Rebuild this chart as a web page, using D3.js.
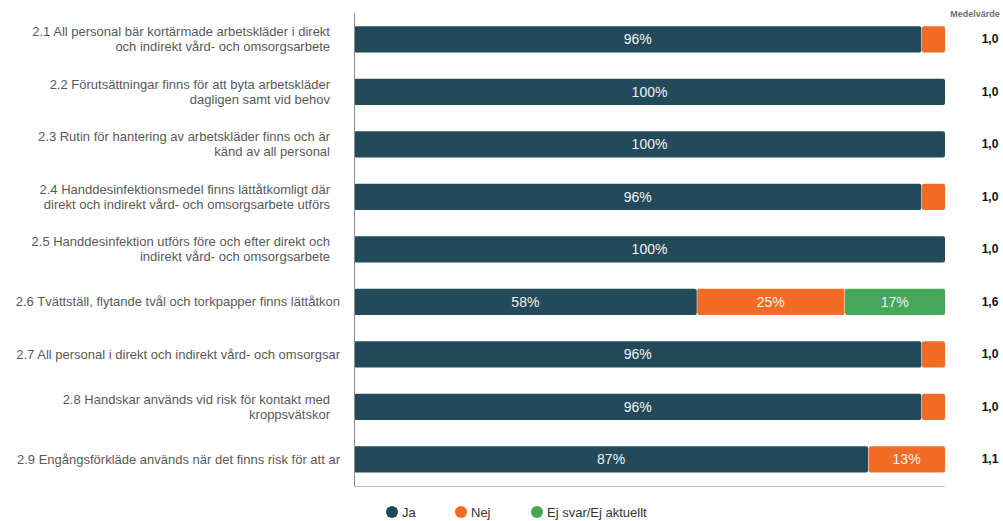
<!DOCTYPE html>
<html><head><meta charset="utf-8">
<script src="https://cdn.jsdelivr.net/npm/d3@7"></script>
<style>body{margin:0;background:#fff;font-family:Arial,"Liberation Sans",sans-serif}</style>
</head><body><svg id="c" width="1003" height="521"></svg>
<script>
const categories = [
  ["2.1 All personal bär kortärmade arbetskläder i direkt","och indirekt vård- och omsorgsarbete"],
  ["2.2 Förutsättningar finns för att byta arbetskläder","dagligen samt vid behov"],
  ["2.3 Rutin för hantering av arbetskläder finns och är","känd av all personal"],
  ["2.4 Handdesinfektionsmedel finns lättåtkomligt där","direkt och indirekt vård- och omsorgsarbete utförs"],
  ["2.5 Handdesinfektion utförs före och efter direkt och","indirekt vård- och omsorgsarbete"],
  ["2.6 Tvättställ, flytande tvål och torkpapper finns lättåtkon"],
  ["2.7 All personal i direkt och indirekt vård- och omsorgsar"],
  ["2.8 Handskar används vid risk för kontakt med","kroppsvätskor"],
  ["2.9 Engångsförkläde används när det finns risk för att ar"]
];
const ja = [96,100,100,96,100,58,96,96,87];
const nej = [4,0,0,4,0,25,4,4,13];
const ejSvar = [0,0,0,0,0,17,0,0,0];
const means = ["1,0","1,0","1,0","1,0","1,0","1,6","1,0","1,0","1,1"];
const seriesNames = ["Ja","Nej","Ej svar/Ej aktuellt"];
const colors = ["#234a5a","#f26b24","#43a857"];

const svg = d3.select("#c");
const x = d3.scaleLinear().domain([0,100]).range([354,945]);
const y = d3.scaleBand().domain(d3.range(categories.length)).range([13,485.5]).paddingInner(0.5).paddingOuter(0.25);

const series = [ja,nej,ejSvar];
const rows = categories.map((c,i)=>({i, vals:series.map(s=>s[i])}));

const g = svg.append("g");
rows.forEach(r=>{
  let acc=0;
  r.vals.forEach((v,k)=>{
    if(v<=0){return;}
    const x0=x(acc), x1=x(acc+v);
    g.append("rect").attr("x",x0+(acc>0?0.5:0)).attr("y",y(r.i)).attr("width",x1-x0-(acc>0?0.5:0)).attr("height",y.bandwidth())
      .attr("rx",2).attr("fill",colors[k]);
    if(v>=10){
      g.append("text").attr("x",(x0+x1)/2).attr("y",y(r.i)+y.bandwidth()/2).attr("dy","0.35em")
        .attr("text-anchor","middle").attr("fill","#f2f2f2").attr("font-size",14).text(v+"%");
    }
    acc+=v;
  });
});

// axes lines
svg.append("line").attr("x1",354.5).attr("x2",354.5).attr("y1",13).attr("y2",486).attr("stroke","#8c8c8c").attr("stroke-width",1);
svg.append("line").attr("x1",354).attr("x2",945).attr("y1",486.5).attr("y2",486.5).attr("stroke","#bfbfbf").attr("stroke-width",1);

// category labels
categories.forEach((lines,i)=>{
  const cy = y(i)+y.bandwidth()/2;
  const xr = lines.length===1 ? 340 : 330;
  const t = svg.append("text").attr("text-anchor","end").attr("fill","#595959").attr("font-size",13);
  lines.forEach((l,j)=>{
    t.append("tspan").attr("x",xr).attr("y",cy+(j-(lines.length-1)/2)*15).attr("dy","0.35em").text(l);
  });
});

// means
svg.append("text").attr("x",975).attr("y",17).attr("text-anchor","middle").attr("font-size",9).attr("font-weight","bold").attr("fill","#6e6e6e").text("Medelvärde");
means.forEach((m,i)=>{
  svg.append("text").attr("x",990).attr("y",y(i)+y.bandwidth()/2).attr("dy","0.35em").attr("text-anchor","middle")
    .attr("font-size",12).attr("font-weight","bold").attr("fill","#111").text(m);
});

// legend
const legX = [392,461,537];
seriesNames.forEach((n,k)=>{
  svg.append("circle").attr("cx",legX[k]).attr("cy",512).attr("r",6).attr("fill",colors[k]);
  svg.append("text").attr("x",legX[k]+10).attr("y",512).attr("dy","0.35em").attr("font-size",13).attr("fill","#333").text(n);
});
</script></body></html>
